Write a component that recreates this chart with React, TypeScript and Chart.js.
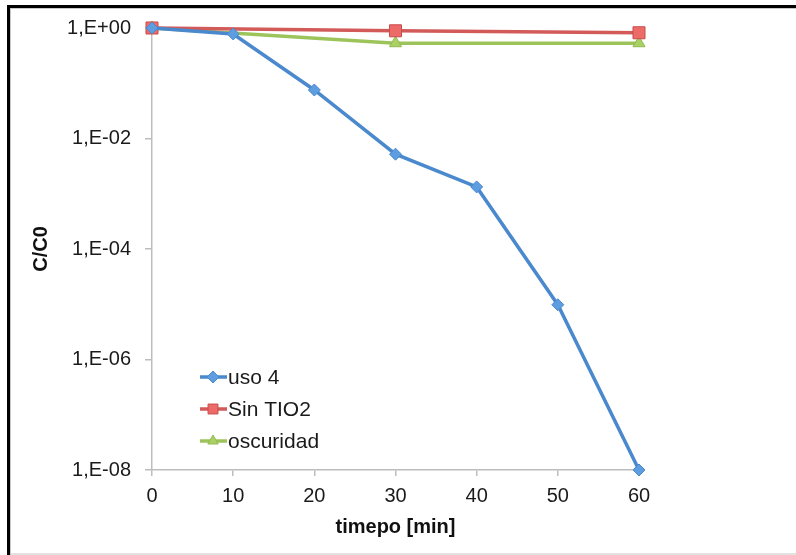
import React, { useEffect, useRef } from "react";
import { Chart, registerables } from "chart.js";

Chart.register(...registerables);

const timeMin = [0, 10, 20, 30, 40, 50, 60];
const uso4 = [1, 0.78, 0.0755, 0.0052, 0.00133, 9.8e-6, 1e-8];
const sinTiO2X = [0, 30, 60];
const sinTiO2 = [1, 0.89, 0.82];
const oscuridadX = [0, 30, 60];
const oscuridad = [1, 0.53, 0.53];
const yTickValues = [1e-8, 1e-6, 1e-4, 1e-2, 1];
const seriesNames = ["uso 4", "Sin TIO2", "oscuridad"];

const FONT = "'Liberation Sans', Arial, Helvetica, sans-serif";

function fmtExp(v: number): string {
  const e = Math.round(Math.log10(v));
  return "1,E" + (e < 0 ? "-" : "+") + String(Math.abs(e)).padStart(2, "0");
}

function drawMarker(ctx: CanvasRenderingContext2D, style: string, x: number, y: number, r: number, fill: string, stroke: string) {
  ctx.save();
  ctx.fillStyle = fill;
  ctx.strokeStyle = stroke;
  ctx.lineWidth = 1;
  ctx.beginPath();
  if (style === "rectRot") {
    ctx.moveTo(x, y - r);
    ctx.lineTo(x + r, y);
    ctx.lineTo(x, y + r);
    ctx.lineTo(x - r, y);
    ctx.closePath();
  } else if (style === "rect") {
    const s = r * Math.SQRT1_2;
    ctx.rect(x - s, y - s, 2 * s, 2 * s);
  } else {
    ctx.moveTo(x, y - r);
    ctx.lineTo(x + r * 0.866, y + r * 0.5);
    ctx.lineTo(x - r * 0.866, y + r * 0.5);
    ctx.closePath();
  }
  ctx.fill();
  ctx.stroke();
  ctx.restore();
}

const framePlugin = {
  id: "frame",
  beforeDraw(chart: any) {
    const ctx = chart.ctx as CanvasRenderingContext2D;
    ctx.save();
    ctx.fillStyle = "#ffffff";
    ctx.fillRect(0, 0, chart.width, chart.height);
    ctx.fillStyle = "#e2e2e2";
    ctx.fillRect(10, 553, chart.width - 10, 2);
    ctx.fillStyle = "#c8c8c8";
    ctx.fillRect(10, 8, 1, chart.height - 8);
    ctx.fillRect(10, 8, chart.width - 10, 1);
    ctx.fillStyle = "#000000";
    ctx.fillRect(7, 5, 3, chart.height - 5);
    ctx.fillRect(7, 5, chart.width - 7, 3);
    ctx.restore();
  },
};

const legendPlugin = {
  id: "insideLegend",
  afterDraw(chart: any) {
    const ctx = chart.ctx as CanvasRenderingContext2D;
    const ys = [377, 409, 441];
    chart.data.datasets.forEach((ds: any, i: number) => {
      const y = ys[i];
      ctx.save();
      ctx.strokeStyle = ds.borderColor;
      ctx.lineWidth = 3.5;
      ctx.beginPath();
      ctx.moveTo(200, y);
      ctx.lineTo(227, y);
      ctx.stroke();
      ctx.restore();
      drawMarker(ctx, ds.pointStyle, 213, y, ds.pointStyle === "rect" ? 7 : 6, ds.pointBackgroundColor, ds.pointBorderColor);
      ctx.save();
      ctx.fillStyle = "#1a1a1a";
      ctx.font = `21px ${FONT}`;
      ctx.textBaseline = "middle";
      ctx.textAlign = "left";
      ctx.fillText(ds.label, 228, y + 1);
      ctx.restore();
    });
  },
};

export default function App() {
  const ref = useRef<HTMLCanvasElement | null>(null);

  useEffect(() => {
    if (!ref.current) return;
    const chart = new Chart(ref.current, {
      type: "line",
      data: {
        datasets: [
          {
            label: seriesNames[0],
            data: timeMin.map((x, i) => ({ x, y: uso4[i] })),
            borderColor: "#4a89cd",
            borderWidth: 3.5,
            pointStyle: "rectRot",
            pointRadius: 6,
            pointBackgroundColor: "#5e9de0",
            pointBorderColor: "#4a89cd",
            pointBorderWidth: 1,
            tension: 0,
            clip: false as any,
          },
          {
            label: seriesNames[1],
            data: sinTiO2X.map((x, i) => ({ x, y: sinTiO2[i] })),
            borderColor: "#d25a58",
            borderWidth: 3.5,
            pointStyle: "rect",
            pointRadius: 8.5,
            pointBackgroundColor: "#ec6b69",
            pointBorderColor: "#c84c4a",
            pointBorderWidth: 1,
            tension: 0,
            clip: false as any,
          },
          {
            label: seriesNames[2],
            data: oscuridadX.map((x, i) => ({ x, y: oscuridad[i] })),
            borderColor: "#9dc45a",
            borderWidth: 3.5,
            pointStyle: "triangle",
            pointRadius: 7,
            pointBackgroundColor: "#a9d163",
            pointBorderColor: "#94b954",
            pointBorderWidth: 1,
            tension: 0,
            clip: false as any,
          },
        ],
      },
      options: {
        responsive: false,
        animation: false,
        layout: { padding: { top: 28, right: 157, left: 0, bottom: 0 } },
        plugins: {
          legend: { display: false },
          tooltip: { enabled: false },
        },
        scales: {
          x: {
            type: "linear",
            min: 0,
            max: 60,
            afterFit: (s: any) => {
              s.height = 85;
            },
            ticks: {
              stepSize: 10,
              padding: 8,
              color: "#1a1a1a",
              font: { family: FONT, size: 20 },
            },
            grid: {
              drawOnChartArea: false,
              drawTicks: true,
              tickLength: 6,
              color: "#bdbdbd",
              lineWidth: 1.5,
            },
            border: { color: "#bdbdbd", width: 1.5 },
            title: {
              display: true,
              text: "timepo [min]",
              color: "#111111",
              font: { family: FONT, size: 20, weight: "bold" },
              padding: { top: 0, bottom: 16 },
            },
          },
          y: {
            type: "logarithmic",
            min: 1e-8,
            max: 1,
            afterFit: (s: any) => {
              s.width = 152;
            },
            afterBuildTicks: (s: any) => {
              s.ticks = yTickValues.map((v) => ({ value: v }));
            },
            ticks: {
              padding: 14,
              color: "#1a1a1a",
              font: { family: FONT, size: 20 },
              callback: (v: any) => fmtExp(Number(v)),
            },
            grid: {
              drawOnChartArea: false,
              drawTicks: true,
              tickLength: 7,
              color: "#bdbdbd",
              lineWidth: 1.5,
            },
            border: { color: "#bdbdbd", width: 1.5 },
            title: {
              display: true,
              text: "C/C0",
              color: "#111111",
              font: { family: FONT, size: 20, weight: "bold" },
              padding: { top: 29, bottom: 0 },
            },
          },
        },
      },
      plugins: [framePlugin, legendPlugin],
    } as any);
    return () => chart.destroy();
  }, []);

  return (
    <div style={{ position: "fixed", left: 0, top: 0, width: 796, height: 555 }}>
      <canvas ref={ref} width={796} height={555} style={{ display: "block" }} />
    </div>
  );
}
